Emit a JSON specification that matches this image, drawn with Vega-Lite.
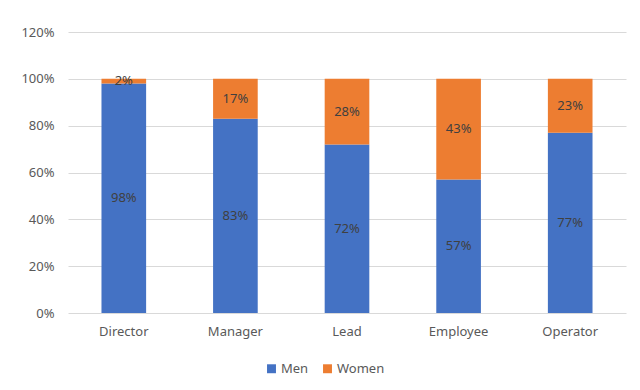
{
  "$schema": "https://vega.github.io/schema/vega-lite/v6.json",
  "width": 558,
  "height": 281,
  "autosize": {"type": "none"},
  "padding": {"left": 68, "top": 32, "right": 14, "bottom": 77},
  "background": "white",
  "config": {
    "view": {"stroke": null},
    "font": "Noto Sans",
    "axis": {"labelFont": "Noto Sans", "labelFontSize": 13, "labelColor": "#595959"},
    "legend": {"labelFont": "Noto Sans", "labelFontSize": 13, "labelColor": "#595959"}
  },
  "data": {
    "values": [
      {"role": "Director", "gender": "Men", "share": 0.98},
      {"role": "Director", "gender": "Women", "share": 0.02},
      {"role": "Manager", "gender": "Men", "share": 0.83},
      {"role": "Manager", "gender": "Women", "share": 0.17},
      {"role": "Lead", "gender": "Men", "share": 0.72},
      {"role": "Lead", "gender": "Women", "share": 0.28},
      {"role": "Employee", "gender": "Men", "share": 0.57},
      {"role": "Employee", "gender": "Women", "share": 0.43},
      {"role": "Operator", "gender": "Men", "share": 0.77},
      {"role": "Operator", "gender": "Women", "share": 0.23}
    ]
  },
  "transform": [
    {"calculate": "datum.gender === 'Men' ? 0 : 1", "as": "ord"},
    {"stack": "share", "groupby": ["role"], "sort": [{"field": "ord"}], "as": ["y0", "y1"]},
    {"calculate": "(datum.y0 + datum.y1) / 2", "as": "mid"}
  ],
  "encoding": {
    "x": {
      "field": "role",
      "type": "nominal",
      "sort": ["Director", "Manager", "Lead", "Employee", "Operator"],
      "scale": {"paddingInner": 0.6, "paddingOuter": 0.3},
      "axis": {"title": null, "labelAngle": 0, "domain": false, "ticks": false, "labelPadding": 12}
    }
  },
  "layer": [
    {
      "mark": {"type": "bar"},
      "encoding": {
        "y": {
          "field": "y0",
          "type": "quantitative",
          "scale": {"domain": [0, 1.2]},
          "axis": {
            "title": null,
            "format": ".0%",
            "values": [0, 0.2, 0.4, 0.6, 0.8, 1.0, 1.2],
            "domain": false,
            "ticks": false,
            "gridColor": "#d9d9d9",
            "gridWidth": 1,
            "labelPadding": 14
          }
        },
        "y2": {"field": "y1"},
        "color": {
          "field": "gender",
          "type": "nominal",
          "scale": {"domain": ["Men", "Women"], "range": ["#4472C4", "#ED7D31"]},
          "legend": {
            "title": null,
            "orient": "none",
            "legendX": 197,
            "legendY": 330,
            "direction": "horizontal",
            "symbolType": "square",
            "symbolSize": 80,
            "symbolStrokeWidth": 0,
            "labelOffset": 3,
            "columnPadding": 12
          }
        }
      }
    },
    {
      "mark": {"type": "text", "fontSize": 13, "color": "#404040", "baseline": "middle"},
      "encoding": {
        "y": {"field": "mid", "type": "quantitative"},
        "text": {"field": "share", "type": "quantitative", "format": ".0%"}
      }
    }
  ]
}
